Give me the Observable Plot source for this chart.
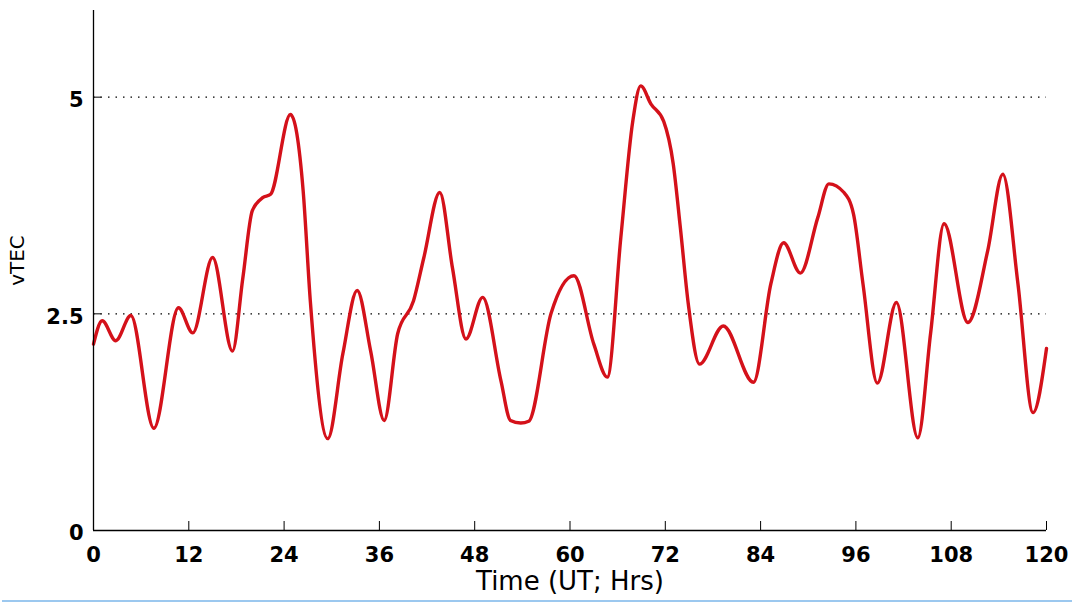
<!DOCTYPE html>
<html>
<head>
<meta charset="utf-8">
<script src="https://cdn.jsdelivr.net/npm/d3@7"></script>
<script src="https://cdn.jsdelivr.net/npm/@observablehq/plot@0.6"></script>
<style>
  html, body { margin: 0; padding: 0; background: #fff; }
  #chart svg { display: block; }
  #bar { height: 2px; background: #9cc8ef; margin-left: 2px; }
</style>
</head>
<body>
<div id="chart"></div>
<div id="bar"></div>
<script>
const hours = [0, 1.1, 2.8, 4.7, 7.6, 10.7, 12.5, 15.0, 17.5, 18.8, 20.0, 21.3, 22.3, 24.8, 26.4, 27.3, 29.5,
  31.4, 33.2, 34.9, 36.6, 38.3, 40.3, 41.6, 43.6, 45.2, 46.9, 49.0, 51.3, 52.5, 53.8, 54.8, 57.6, 60.5,
  63.0, 64.7, 66.4, 67.9, 68.9, 70.2, 71.8, 73.0, 73.9, 74.9, 76.3, 79.3, 83.1, 85.3, 86.9, 89.0, 91.2,
  92.6, 94.5, 95.7, 96.9, 98.7, 101.1, 103.8, 105.4, 107.1, 110.1, 112.6, 114.5, 116.4, 118.3, 120];
const vtec = [2.15, 2.42, 2.19, 2.48, 1.18, 2.57, 2.28, 3.15, 2.07, 2.91, 3.69, 3.84, 3.88, 4.80, 3.92, 2.65, 1.06,
  2.04, 2.77, 2.07, 1.27, 2.27, 2.65, 3.15, 3.90, 3.03, 2.21, 2.69, 1.73, 1.27, 1.24, 1.26, 2.50, 2.94,
  2.15, 1.77, 3.38, 4.72, 5.13, 4.92, 4.72, 4.23, 3.49, 2.61, 1.92, 2.36, 1.71, 2.85, 3.32, 2.97, 3.61,
  4.00, 3.90, 3.65, 2.84, 1.70, 2.63, 1.07, 2.27, 3.54, 2.40, 3.23, 4.11, 2.85, 1.36, 2.10];
const xTicks = [0, 12, 24, 36, 48, 60, 72, 84, 96, 108, 120];
const yTicks = [0, 2.5, 5];
const yTickLabels = ["0", "2.5", "5"];
const gridValues = [2.5, 5];

const data = hours.map((h, i) => ({hour: h, vtec: vtec[i]}));

const chart = Plot.plot({
  width: 1072,
  height: 600,
  marginTop: 10,
  marginBottom: 70,
  marginLeft: 93,
  marginRight: 26,
  style: {fontFamily: "'DejaVu Sans', sans-serif", background: "#fff", color: "#000"},
  x: {domain: [0, 120]},
  y: {domain: [0, 6]},
  marks: [
    Plot.gridY(gridValues, {stroke: "#000", strokeOpacity: 1, strokeDasharray: "1.5,6", strokeWidth: 1.2}),
    Plot.line(data, {x: "hour", y: "vtec", stroke: "#d4111a", strokeWidth: 3.4, curve: "monotone-x"}),
    Plot.ruleX([0], {stroke: "#000", strokeWidth: 1.3}),
    Plot.ruleY([0], {stroke: "#000", strokeWidth: 1.3}),
    Plot.axisX({ticks: xTicks, tickSize: -9, tickPadding: 26, fontSize: 21, fontWeight: "bold", label: null, stroke: "#000"}),
    Plot.axisY({ticks: yTicks, tickSize: -8, tickFormat: () => "", label: null, stroke: "#000"}),
    Plot.axisY({ticks: yTicks, tickFormat: (d) => yTickLabels[yTicks.indexOf(d)], tickSize: 0, tickPadding: 10, dy: 3, fontSize: 21, fontWeight: "bold", label: null}),
    Plot.text(["Time (UT; Hrs)"], {frameAnchor: "bottom", dy: 59, fontSize: 26, fill: "#000"}),
    Plot.text(["vTEC"], {frameAnchor: "left", textAnchor: "middle", dx: -76, dy: -10, rotate: -90, fontSize: 20, fill: "#000"})
  ]
});
document.getElementById("chart").appendChild(chart);
</script>
</body>
</html>
